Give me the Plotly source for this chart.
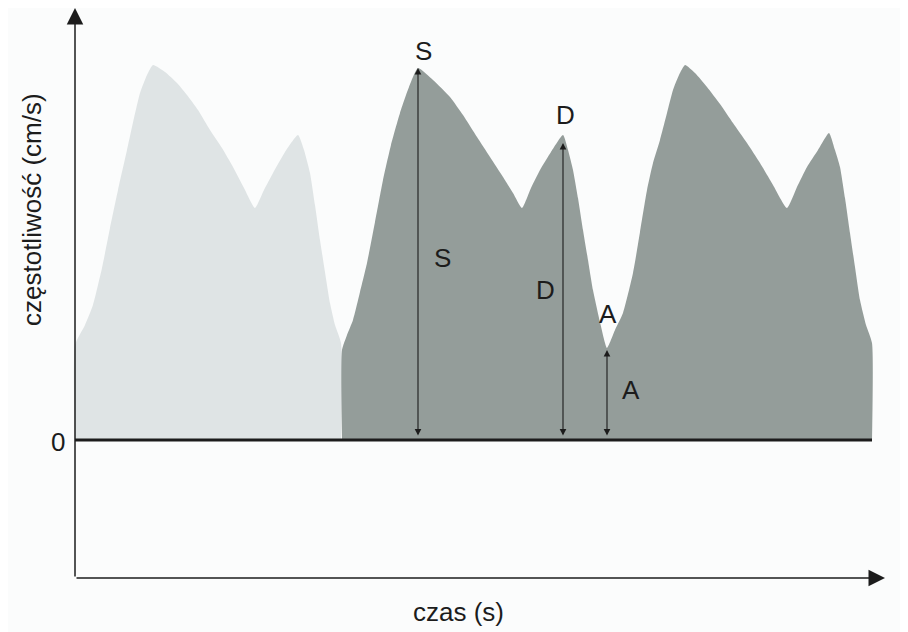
import plotly.graph_objects as go

# --- data (time units, velocity units; zero line at v=0) ---
light_t = [0, 0, 10, 18, 27, 35, 43, 52, 59, 65, 72, 78, 90, 102, 112, 123, 135, 147, 158, 169,
           180, 189, 198, 210, 223, 229, 235, 240, 245, 250, 255, 260, 266, 266]
light_v = [0, 95, 115, 135, 172, 212, 250, 290, 322, 347, 365, 375, 368, 357, 345, 330, 310, 292, 273, 252,
           232, 250, 267, 288, 305, 290, 267, 235, 200, 168, 137, 115, 97, 0]

dark_t = [267, 267, 272, 278, 285, 292, 300, 308, 316, 325, 334, 343, 358, 375, 388, 402, 415, 428, 438, 447,
          456, 465, 476, 488, 493, 498, 503, 508, 513, 518, 525, 532, 540, 548, 558, 565, 572, 578, 585, 592,
          598, 604, 610, 620, 632, 645, 658, 672, 685, 698, 712, 722, 732, 743, 754, 760, 765, 770, 775, 780,
          785, 791, 797, 797]
dark_v = [0, 90, 105, 120, 148, 177, 218, 260, 295, 327, 353, 372, 360, 343, 325, 303, 283, 263, 247, 232,
          252, 270, 288, 305, 290, 270, 242, 210, 180, 150, 118, 92, 110, 127, 167, 208, 250, 277, 300, 327,
          350, 365, 375, 367, 353, 336, 317, 297, 277, 255, 232, 253, 273, 290, 307, 290, 273, 242, 207, 173,
          140, 115, 97, 0]

# measurement arrows: (time, top velocity)
measure_labels = ["S", "D", "A"]
measure_t = [343, 488, 532]
measure_top = [372, 297, 90]

t_end = 797
x_axis_end = 810
y_axis_top = 432
y_axis_bottom = -138

LIGHT = "#dfe4e5"
DARK = "#949d9a"
INK = "#1c1c1c"
FONT = "Liberation Sans, Arial, sans-serif"

fig = go.Figure()
fig.add_trace(go.Scatter(x=light_t, y=light_v, mode="lines", fill="toself", line_shape="spline",
                         fillcolor=LIGHT, line=dict(width=0, smoothing=0.5), hoverinfo="skip"))
fig.add_trace(go.Scatter(x=dark_t, y=dark_v, mode="lines", fill="toself", line_shape="spline",
                         fillcolor=DARK, line=dict(width=0, smoothing=0.5), hoverinfo="skip"))
# zero line
fig.add_trace(go.Scatter(x=[0, t_end], y=[0, 0], mode="lines",
                         line=dict(color=INK, width=3), hoverinfo="skip"))

ann = []
# axes with arrows
ann.append(dict(x=0, y=y_axis_top, ax=0, ay=y_axis_bottom, xref="x", yref="y", axref="x", ayref="y",
                showarrow=True, arrowhead=2, arrowsize=2.2, arrowwidth=1.5, arrowcolor=INK, text=""))
ann.append(dict(x=x_axis_end, y=y_axis_bottom, ax=0, ay=y_axis_bottom, xref="x", yref="y", axref="x", ayref="y",
                showarrow=True, arrowhead=2, arrowsize=2.2, arrowwidth=1.5, arrowcolor=INK, text=""))
# measurement double arrows
for lab, t, top in zip(measure_labels, measure_t, measure_top):
    ann.append(dict(x=t, y=top, ax=t, ay=3, xref="x", yref="y", axref="x", ayref="y",
                    showarrow=True, arrowhead=2, startarrowhead=2, arrowside="end+start",
                    arrowsize=1.2, startarrowsize=1.2, arrowwidth=1.1, arrowcolor=INK, text=""))

txt = dict(font=dict(family=FONT, size=26, color=INK), showarrow=False, xref="x", yref="y")
labels = [("S", 348, 389), ("S", 367, 182), ("D", 490, 325), ("D", 470, 150), ("A", 533, 126), ("A", 556, 50)]
for s, x, y in labels:
    ann.append(dict(text=s, x=x, y=y, **txt))
ann.append(dict(text="0", x=-17, y=-2, **txt))
ann.append(dict(text="czas (s)", x=383, y=-172, **txt))
ann.append(dict(text="częstotliwość (cm/s)", x=-43, y=230, textangle=-90, **txt))

fig.update_layout(
    width=900, height=624,
    margin=dict(l=0, r=0, t=0, b=0),
    paper_bgcolor="#fbfcfc", plot_bgcolor="#fbfcfc",
    showlegend=False,
    xaxis=dict(range=[-67, 833], visible=False, fixedrange=True),
    yaxis=dict(range=[-192, 432], visible=False, fixedrange=True),
    annotations=ann,
)

fig.write_html("out.html")
